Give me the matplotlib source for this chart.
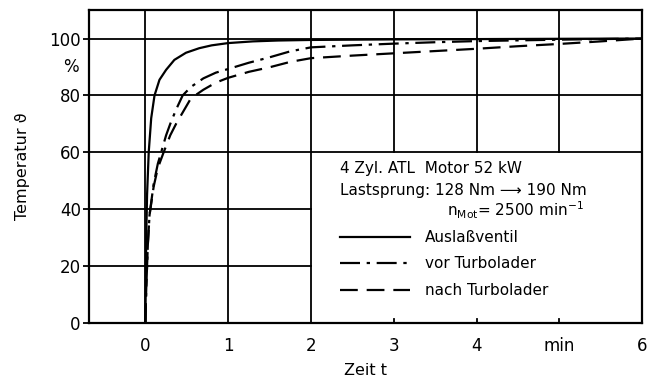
import matplotlib.pyplot as plt
from matplotlib.lines import Line2D

plt.rcParams['font.family'] = ['DejaVu Sans']

# Auslassventil (solid)
t_aus = [0, 0.005, 0.01, 0.02, 0.04, 0.07, 0.11, 0.17, 0.25, 0.35, 0.49, 0.65, 0.8, 1.0,
         1.3, 1.6, 2.0, 3.0, 4.0, 5.0, 6.0]
v_aus = [0, 15, 30, 45, 60, 72, 80, 85.5, 89, 92.5, 95, 96.6, 97.6, 98.4,
         99, 99.3, 99.5, 99.7, 99.8, 99.9, 100]

# vor Turbolader (dash-dot)
t_vor = [0, 0.01, 0.03, 0.05, 0.1, 0.15, 0.19, 0.25, 0.3, 0.37, 0.45, 0.55, 0.7, 0.85, 1.0,
         1.25, 1.5, 1.75, 2.0, 2.5, 3.0, 3.5, 4.0, 5.0, 6.0]
v_vor = [0, 12, 28, 38, 49, 56, 60, 66, 70, 75, 80, 83, 86, 88, 89.3,
         91.5, 93.4, 95.5, 96.9, 97.6, 98.2, 98.7, 99.1, 99.6, 100]

# nach Turbolader (dashed)
t_nach = [0, 0.01, 0.03, 0.05, 0.1, 0.15, 0.22, 0.3, 0.37, 0.45, 0.55, 0.7, 0.85, 1.0,
          1.25, 1.5, 1.75, 2.0, 2.5, 3.0, 3.5, 4.0, 4.5, 5.0, 5.5, 6.0]
v_nach = [0, 12, 28, 38, 48, 54.5, 60, 66, 70, 74, 79, 82, 84.5, 86.2,
          88.3, 89.9, 91.8, 93.1, 94, 94.8, 95.6, 96.4, 97.3, 98.1, 99, 100]

xticks = [0, 1, 2, 3, 4, 5, 6]
xticklabels = ["0", "1", "2", "3", "4", "min", "6"]
yticks = [0, 20, 40, 60, 80, 100]

fig = plt.figure(figsize=(6.6, 3.87), dpi=100)
ax = fig.add_axes([0.135, 0.165, 0.838, 0.809])
ax.set_xlim(-0.68, 6)
ax.set_ylim(0, 110)

# grid
for x in [0, 1, 2]:
    ax.axvline(x, color="black", lw=1.3, zorder=1)
for x in [3, 4, 5]:
    ax.plot([x, x], [60, 110], color="black", lw=1.3, zorder=1)
    ax.plot([x, x], [0, 1.5], color="black", lw=1.3, zorder=1)
for y in [20, 40]:
    ax.plot([-0.68, 2], [y, y], color="black", lw=1.3, zorder=1)
for y in [60, 80, 100]:
    ax.axhline(y, color="black", lw=1.3, zorder=1)

ax.plot(t_aus, v_aus, color="black", lw=1.6, ls="-", zorder=3)
ax.plot(t_vor, v_vor, color="black", lw=1.6, ls=(0, (9, 3, 1.5, 3)), zorder=3)
ax.plot(t_nach, v_nach, color="black", lw=1.6, ls=(0, (8, 4)), zorder=3)

for s in ax.spines.values():
    s.set_linewidth(1.6)

ax.set_xticks(xticks)
ax.set_xticklabels(xticklabels)
ax.set_yticks(yticks)
ax.tick_params(axis="x", length=0, pad=10, labelsize=12)
ax.tick_params(axis="y", length=4, width=1.3, pad=2, labelsize=12)
ax.text(-0.8, 90, "%", ha="right", va="center", fontsize=12)

ax.set_xlabel("Zeit t", fontsize=11.5, labelpad=6)
ax.set_ylabel("Temperatur ϑ", fontsize=11.5, labelpad=14)

# legend block
tr = ax.transAxes
fs = 11
ax.text(0.454, 0.495, "4 Zyl. ATL  Motor 52 kW", transform=tr, fontsize=fs, va="center")
ax.text(0.454, 0.425, "Lastsprung: 128 Nm \u27f6 190 Nm", transform=tr, fontsize=fs, va="center")
ax.text(0.647, 0.361, r"n$_{\mathregular{Mot}}$= 2500 min$^{\mathregular{-1}}$", transform=tr,
        fontsize=fs, va="center")
entries = [("Auslaßventil", "-", 0.275), ("vor Turbolader", (0, (9, 3, 1.5, 3)), 0.192),
           ("nach Turbolader", (0, (8, 4)), 0.105)]
for label, ls, yy in entries:
    ax.add_line(Line2D([0.454, 0.58], [yy, yy], transform=tr, color="black", lw=1.6, ls=ls))
    ax.text(0.608, yy, label, transform=tr, fontsize=fs, va="center")

fig.savefig("out.png", dpi=100)
